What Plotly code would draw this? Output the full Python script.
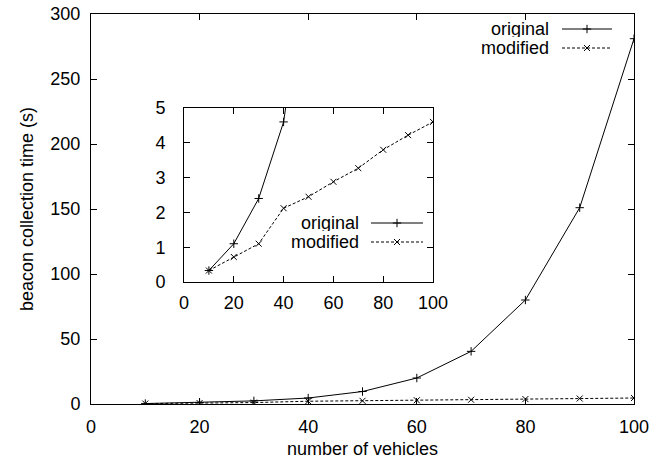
import plotly.graph_objects as go

vehicles = [10, 20, 30, 40, 50, 60, 70, 80, 90, 100]
original = [0.33, 1.1, 2.4, 4.6, 9.6, 20.0, 40.5, 80.0, 151.0, 281.0]
modified = [0.33, 0.72, 1.1, 2.12, 2.45, 2.88, 3.27, 3.8, 4.22, 4.6]
series_names = ["original", "modified"]

W, H = 651, 459
FONT = "Liberation Sans, Arial, sans-serif"
FS = 18


def px_x(p):
    return p / W


def px_y(p):
    return (H - p) / H


fig = go.Figure()

plus_marker = dict(symbol="cross-thin", size=6, line=dict(width=1, color="black"), color="black")
x_marker = dict(symbol="x-thin", size=6, line=dict(width=1, color="black"), color="black")
solid = dict(color="black", width=1)
dashed = dict(color="black", width=1, dash="3px,2px")

# main plot
fig.add_trace(go.Scatter(x=vehicles, y=original, mode="lines+markers", line=solid,
                         marker=plus_marker, xaxis="x", yaxis="y", showlegend=False, cliponaxis=True))
fig.add_trace(go.Scatter(x=vehicles, y=modified, mode="lines+markers", line=dashed,
                         marker=x_marker, xaxis="x", yaxis="y", showlegend=False, cliponaxis=True))
# inset
fig.add_trace(go.Scatter(x=vehicles, y=original, mode="lines+markers", line=solid,
                         marker=plus_marker, xaxis="x2", yaxis="y2", showlegend=False, cliponaxis=True))
fig.add_trace(go.Scatter(x=vehicles, y=modified, mode="lines+markers", line=dashed,
                         marker=x_marker, xaxis="x2", yaxis="y2", showlegend=False, cliponaxis=True))

# legend samples drawn on a paper-fraction overlay axis (x3/y3)
annotations = []


def legend(text_right, line_x0, line_x1, y_rows):
    for i, (name, yy) in enumerate(zip(series_names, y_rows)):
        mk = plus_marker if i == 0 else x_marker
        ln = solid if i == 0 else dashed
        fig.add_trace(go.Scatter(x=[px_x(line_x0), px_x(line_x1)], y=[px_y(yy), px_y(yy)], mode="lines",
                                 line=ln, xaxis="x3", yaxis="y3", showlegend=False, hoverinfo="skip"))
        fig.add_trace(go.Scatter(x=[px_x((line_x0 + line_x1) / 2)], y=[px_y(yy)], mode="markers",
                                 marker=mk, xaxis="x3", yaxis="y3", showlegend=False, hoverinfo="skip"))
        annotations.append(dict(x=px_x(text_right), y=px_y(yy), xref="paper", yref="paper", text=name,
                                showarrow=False, xanchor="right", yanchor="middle", height=16,
                                font=dict(family=FONT, size=FS, color="black")))


legend(551, 562, 612, [29, 48])
legend(361, 371, 423, [223, 242])

axis_common = dict(showline=True, linecolor="black", linewidth=1, mirror="ticks",
                   ticks="inside", ticklen=6, tickcolor="black", tickwidth=1,
                   showgrid=False, zeroline=False, automargin=False, ticklabeloverflow="allow",
                   tickfont=dict(family=FONT, size=FS, color="black"))

fig.update_layout(
    width=W, height=H,
    margin=dict(l=0, r=0, t=0, b=0),
    paper_bgcolor="white", plot_bgcolor="rgba(0,0,0,0)",
    xaxis=dict(domain=[px_x(91), px_x(634)], range=[0, 100], dtick=20, tick0=0,
               anchor="y", ticklabelstandoff=6,
               title=dict(text="number of vehicles", font=dict(family=FONT, size=FS, color="black"), standoff=6),
               **axis_common),
    yaxis=dict(domain=[px_y(404), px_y(14)], range=[0, 300], dtick=50, tick0=0,
               anchor="x", ticklabelstandoff=6,
               title=dict(text="beacon collection time (s)", font=dict(family=FONT, size=FS, color="black"), standoff=12),
               **axis_common),
    xaxis2=dict(domain=[px_x(184), px_x(433)], range=[0, 100], dtick=20, tick0=0,
                anchor="y2", ticklabelstandoff=4, **axis_common),
    yaxis2=dict(domain=[px_y(282), px_y(108)], range=[0, 5], dtick=1, tick0=0,
                anchor="x2", ticklabelstandoff=14, **axis_common),
    xaxis3=dict(domain=[0, 1], range=[0, 1], visible=False, fixedrange=True, anchor="y3"),
    yaxis3=dict(domain=[0, 1], range=[0, 1], visible=False, fixedrange=True, anchor="x3"),
    annotations=annotations,
    font=dict(family=FONT, size=FS, color="black"),
)

fig.write_html("out.html", config={"displayModeBar": False},
               post_script="document.body.style.margin='0px';document.body.style.overflow='hidden';")
